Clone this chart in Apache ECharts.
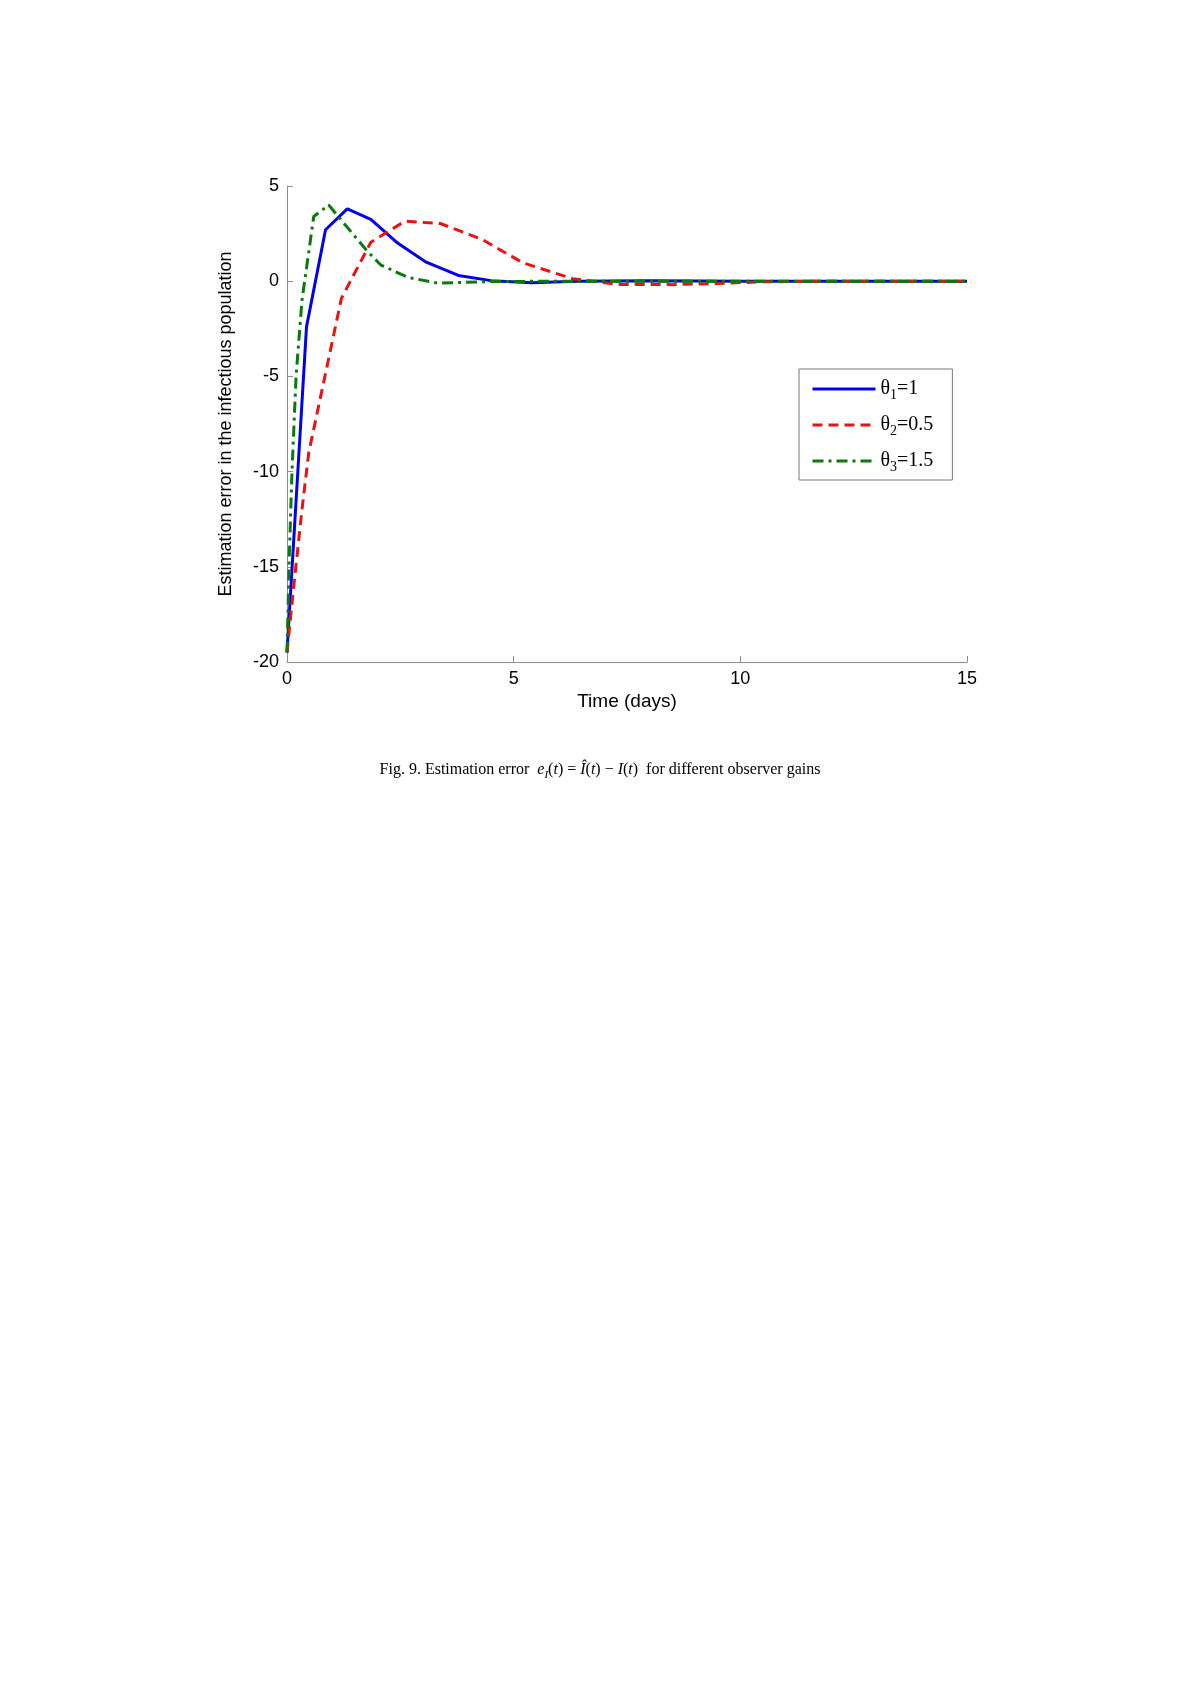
<!DOCTYPE html>
<html>
<head>
<meta charset="utf-8">
<script src="https://cdn.jsdelivr.net/npm/echarts@6/dist/echarts.min.js"></script>
<style>
  html, body { margin: 0; padding: 0; background: #fff; }
  #chart { width: 1200px; height: 1698px; }
</style>
</head>
<body>
<div id="chart"></div>
<script>
// values (time in days, estimation error)
var t1 = [0, 0.43, 0.85, 1.33, 1.85, 2.44, 3.07, 3.78, 4.5, 5.4, 6.4, 8, 10, 12, 15];
var e1 = [-19.5, -2.4, 2.7, 3.8, 3.25, 2.0, 1.0, 0.3, 0.03, -0.08, 0, 0.02, 0, 0, 0];

var t2 = [0, 0.15, 0.33, 0.48, 0.88, 1.2, 1.85, 2.6, 3.38, 4.3, 5.2, 6.3, 7.3, 8.5, 9.5, 10.5, 12, 15];
var e2 = [-19.5, -16, -12, -9, -4.5, -0.9, 2.05, 3.15, 3.03, 2.2, 0.97, 0.13, -0.17, -0.18, -0.12, -0.03, 0, 0];

var t3 = [0, 0.05, 0.11, 0.2, 0.33, 0.59, 0.92, 1.78, 2.07, 2.67, 3.33, 4.4, 6, 8, 10, 15];
var e3 = [-19.5, -14.5, -10, -5, -1, 3.4, 4.0, 1.55, 0.85, 0.2, -0.1, -0.02, 0, 0, 0, 0];

var legendNames = ['θ1=1', 'θ2=0.5', 'θ3=1.5'];
var xTicks = [0, 5, 10, 15];
var yTicks = [-20, -15, -10, -5, 0, 5];

function pairs(t, e) {
    var out = [];
    for (var i = 0; i < t.length; i++) {
        out.push([t[i], e[i]]);
    }
    return out;
}

var chart = echarts.init(document.getElementById('chart'));

var axisGray = '#8c8c8c';
var sans = '"Liberation Sans", Arial, sans-serif';
var serif = '"Liberation Serif", "Times New Roman", serif';

var option = {
    backgroundColor: '#fff',
    animation: false,
    grid: {
        left: 287,
        top: 186,
        width: 680,
        height: 476
    },
    xAxis: {
        type: 'value',
        min: xTicks[0],
        max: xTicks[xTicks.length - 1],
        interval: 5,
        name: 'Time (days)',
        nameLocation: 'middle',
        nameGap: 30,
        nameTextStyle: { fontFamily: sans, fontSize: 19, color: '#000' },
        axisLine: { onZero: false, lineStyle: { color: axisGray, width: 1 } },
        axisTick: { inside: true, length: 6, lineStyle: { color: axisGray } },
        axisLabel: { fontFamily: sans, fontSize: 18, color: '#000', margin: 8 },
        splitLine: { show: false }
    },
    yAxis: {
        type: 'value',
        min: yTicks[0],
        max: yTicks[yTicks.length - 1],
        interval: 5,
        name: 'Estimation error in the infectious population',
        nameLocation: 'middle',
        nameGap: 52,
        nameTextStyle: { fontFamily: sans, fontSize: 18, color: '#000' },
        axisLine: { show: true, onZero: false, lineStyle: { color: axisGray, width: 1 } },
        axisTick: { show: true, inside: true, length: 6, lineStyle: { color: axisGray } },
        axisLabel: { fontFamily: sans, fontSize: 18, color: '#000', margin: 8 },
        splitLine: { show: false }
    },
    legend: {
        left: 799,
        top: 369,
        orient: 'vertical',
        data: legendNames,
        itemWidth: 63,
        itemHeight: 14,
        itemGap: 13,
        padding: [10, 19, 6, 12],
        borderColor: '#777',
        borderWidth: 1,
        backgroundColor: '#fff',
        itemStyle: { opacity: 0 },
        lineStyle: { width: 3 },
        formatter: function (name) {
            var m = name.match(/θ(\d)(=.*)/);
            return '{t|θ}{s|' + m[1] + '}{t|' + m[2] + '}';
        },
        textStyle: {
            color: '#000',
            rich: {
                t: { fontFamily: serif, fontSize: 20, lineHeight: 26, color: '#000' },
                s: { fontFamily: serif, fontSize: 14, lineHeight: 12, verticalAlign: 'bottom', color: '#000' }
            }
        }
    },
    series: [
        {
            name: legendNames[0],
            type: 'line',
            data: pairs(t1, e1),
            showSymbol: false,
            symbol: 'none',
            color: '#0000ee',
            lineStyle: { width: 3, color: '#0000ee', type: 'solid' }
        },
        {
            name: legendNames[1],
            type: 'line',
            data: pairs(t2, e2),
            showSymbol: false,
            symbol: 'none',
            color: '#ee1111',
            lineStyle: { width: 3, color: '#ee1111', type: [10, 6] }
        },
        {
            name: legendNames[2],
            type: 'line',
            data: pairs(t3, e3),
            showSymbol: false,
            symbol: 'none',
            color: '#0a7a0a',
            lineStyle: { width: 3, color: '#0a7a0a', type: [11, 5, 3, 5] }
        }
    ],
    graphic: [
        {
            type: 'text',
            x: 600,
            y: 770,
            style: {
                text: '{n|Fig. 9. Estimation error  }{i|e}{s|I}{n|(}{i|t}{n|) = }{i|Î}{n|(}{i|t}{n|) − }{i|I}{n|(}{i|t}{n|)  for different observer gains}',
                align: 'center',
                verticalAlign: 'middle',
                fill: '#000',
                rich: {
                    n: { fontFamily: serif, fontSize: 16, lineHeight: 22, fill: '#000' },
                    i: { fontFamily: serif, fontSize: 16, fontStyle: 'italic', lineHeight: 22, fill: '#000' },
                    s: { fontFamily: serif, fontSize: 11, fontStyle: 'italic', lineHeight: 9, verticalAlign: 'bottom', fill: '#000' }
                }
            }
        }
    ]
};

chart.setOption(option);
</script>
</body>
</html>
